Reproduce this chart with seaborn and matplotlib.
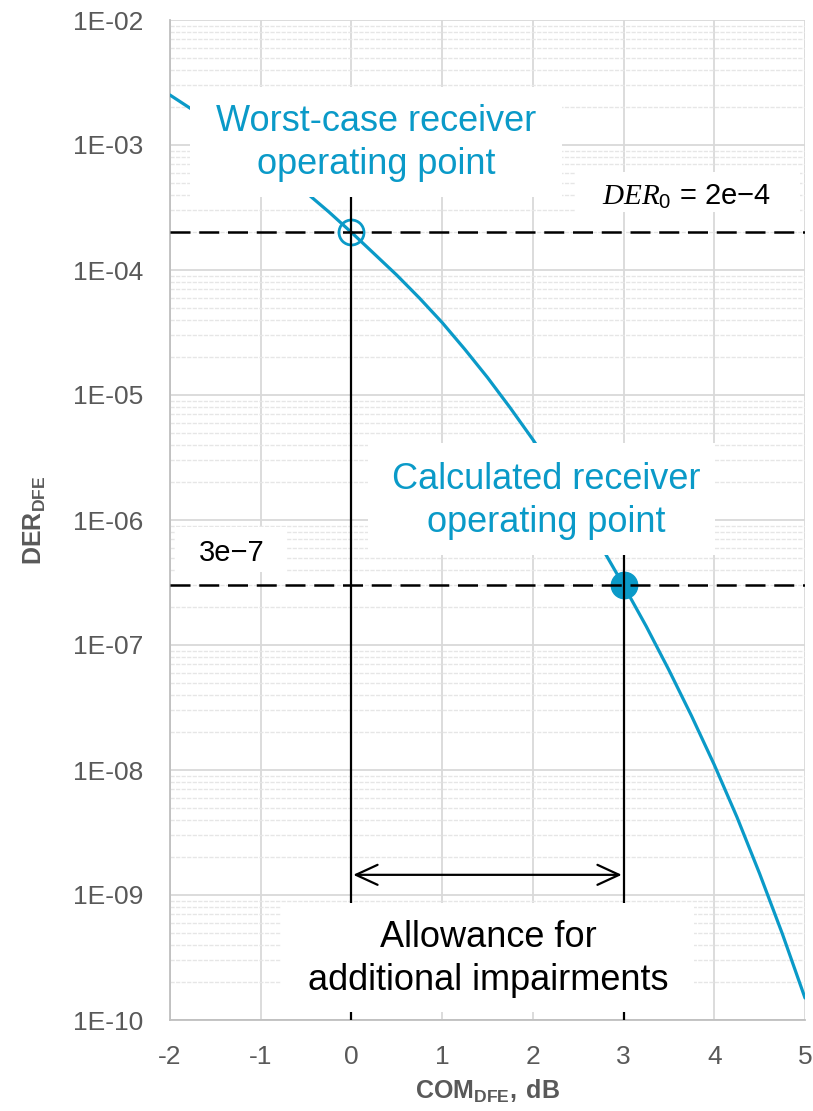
import numpy as np
import pandas as pd
import matplotlib
matplotlib.use("Agg")
import matplotlib.pyplot as plt
from matplotlib.ticker import FixedLocator, FuncFormatter, LogLocator, NullFormatter
import seaborn as sns

# ---- data ----
com_db = [-2.0, -1.75, -1.5, -1.25, -1.0, -0.75, -0.5, -0.25, 0.0, 0.25, 0.5, 0.75,
          1.0, 1.25, 1.5, 1.75, 2.0, 2.25, 2.5, 2.75, 3.0, 3.25, 3.5, 3.75,
          4.0, 4.25, 4.5, 4.75, 5.0]
der = [2.51e-3, 1.91e-3, 1.43e-3, 1.07e-3, 7.94e-4, 5.82e-4, 4.17e-4, 2.92e-4,
       2.0e-4, 1.35e-4, 9.1e-5, 5.96e-5, 3.8e-5, 2.32e-5, 1.38e-5, 7.9e-6,
       4.4e-6, 2.34e-6, 1.2e-6, 6.2e-7, 3.0e-7, 1.41e-7, 6.3e-8, 2.7e-8,
       1.1e-8, 4.2e-9, 1.48e-9, 4.9e-10, 1.5e-10]
der0 = 2e-4
der_target = 3e-7
com_worst = 0.0
com_calc = 3.0
x_ticks = [-2, -1, 0, 1, 2, 3, 4, 5]
y_ticks = [1e-10, 1e-9, 1e-8, 1e-7, 1e-6, 1e-5, 1e-4, 1e-3, 1e-2]

BLUE = "#0A9AC8"
GRAY = "#595959"

sns.set_theme(style="white")
plt.rcParams["font.family"] = ["Liberation Sans", "DejaVu Sans"]
plt.rcParams["mathtext.fontset"] = "custom"
plt.rcParams["mathtext.rm"] = "Liberation Sans"
plt.rcParams["mathtext.bf"] = "Liberation Sans:bold"
plt.rcParams["mathtext.it"] = "Liberation Serif:italic"

fig = plt.figure(figsize=(8.13, 11.11), dpi=100)
ax = fig.add_axes([170 / 813, 91 / 1111, 635 / 813, 1000 / 1111])

df = pd.DataFrame({"com": com_db, "der": der})
sns.lineplot(data=df, x="com", y="der", ax=ax, color=BLUE, lw=2.3, zorder=3)

ax.set_yscale("log")
ax.set_xlim(-2, 5)
ax.set_ylim(1e-10, 1e-2)

ax.xaxis.set_major_locator(FixedLocator(x_ticks))
ax.yaxis.set_major_locator(FixedLocator(y_ticks))
ax.yaxis.set_minor_locator(LogLocator(base=10, subs=np.arange(2, 10), numticks=100))
ax.yaxis.set_minor_formatter(NullFormatter())
ax.yaxis.set_major_formatter(FuncFormatter(lambda v, p: "1E-%02d" % round(-np.log10(v))))
ax.xaxis.set_major_formatter(FuncFormatter(lambda v, p: "%d" % v))

ax.grid(True, which="major", color="#D9D9D9", lw=1.3, zorder=0)
ax.grid(True, which="minor", axis="y", color="#E6E6E6", lw=1.0, ls=(0, (3, 1)), zorder=0)
ax.set_axisbelow(True)
for s in ax.spines.values():
    s.set_visible(False)
ax.spines["left"].set_visible(True)
ax.spines["bottom"].set_visible(True)
ax.spines["left"].set_color("#BFBFBF")
ax.spines["bottom"].set_color("#BFBFBF")
ax.spines["left"].set_linewidth(1.3)
ax.spines["bottom"].set_linewidth(1.3)

ax.tick_params(axis="both", which="both", length=0, labelsize=19, labelcolor=GRAY)
ax.tick_params(axis="y", pad=19)
ax.tick_params(axis="x", pad=18)

ax.set_xlabel(r"$\mathbf{COM_{DFE},\ dB}$", fontsize=18, color=GRAY, labelpad=6)
ax.set_ylabel(r"$\mathbf{DER_{DFE}}$", fontsize=18, color=GRAY, labelpad=18)

# dashed horizontal reference lines
dash = (0, (8, 3.5))
ax.axhline(der0, color="black", lw=1.8, ls=dash, zorder=4)
ax.axhline(der_target, color="black", lw=1.8, ls=dash, zorder=4)

# vertical solid lines
ax.plot([com_worst, com_worst], [1e-10, 1e-3], color="black", lw=1.6, zorder=4)
ax.plot([com_calc, com_calc], [1e-10, 1e-6], color="black", lw=1.6, zorder=4)

# operating points
ax.plot([com_worst], [der0], marker="o", ms=18, mfc="none", mec=BLUE, mew=2, zorder=3.5)
ax.plot([com_calc], [der_target], marker="o", ms=19, mfc=BLUE, mec=BLUE, zorder=3.5)

# allowance arrow
ax.annotate("", xy=(com_calc - 0.02, 1.45e-9), xytext=(com_worst + 0.02, 1.45e-9),
            arrowprops=dict(arrowstyle="<->,head_length=1.3,head_width=0.6",
                            color="black", lw=1.6, shrinkA=0, shrinkB=0), zorder=5)

def px(x, y):
    """figure-pixel (from top-left) to figure fraction"""
    return x / 813, 1 - y / 1111

def box(x0, y0, x1, y1):
    fx0, fy1 = px(x0, y0)
    fx1, fy0 = px(x1, y1)
    r = plt.Rectangle((fx0, fy0), fx1 - fx0, fy1 - fy0, transform=fig.transFigure,
                      facecolor="white", edgecolor="none", zorder=6)
    fig.add_artist(r)

# white label boxes
box(190, 87, 562, 197)
box(368, 443, 715, 555)
box(575, 172, 800, 212)
box(175, 527, 287, 572)
box(281, 903, 694, 1012)

def label(x, y, s, **kw):
    fx, fy = px(x, y)
    t = fig.text(fx, fy, s, ha="center", va="center", zorder=7, **kw)
    return t

label(376, 143, "Worst-case receiver\noperating point", fontsize=26, color=BLUE, linespacing=1.32)
label(546, 501, "Calculated receiver\noperating point", fontsize=26, color=BLUE, linespacing=1.32)
label(686, 197, r"$DER_0$ = 2e−4", fontsize=21, color="black")
label(232, 553, "3e−7", fontsize=21, color="black")
label(488, 959, "Allowance for\nadditional impairments", fontsize=26, color="black", linespacing=1.32)

fig.savefig("out.png", dpi=100)
